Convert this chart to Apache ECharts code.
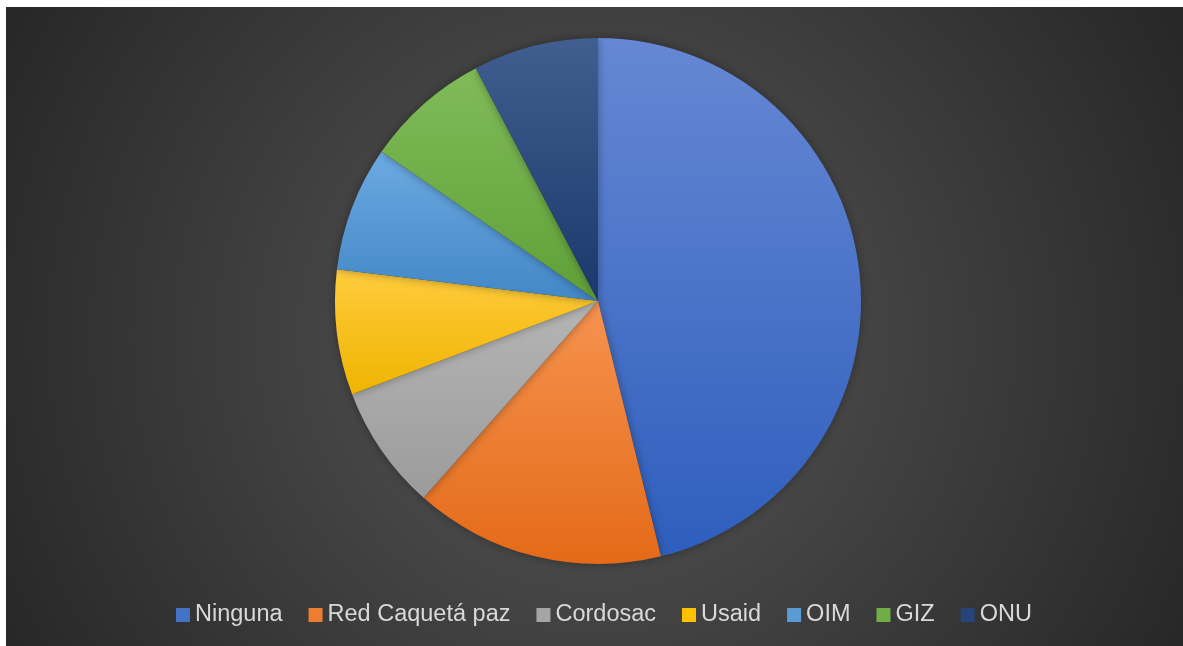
<!DOCTYPE html>
<html><head><meta charset="utf-8">
<script src="https://cdn.jsdelivr.net/npm/echarts@6/dist/echarts.min.js"></script>
<style>
html,body{margin:0;padding:0;background:#fff;width:1183px;height:646px;overflow:hidden}
#c{position:absolute;left:6px;top:7px;width:1177px;height:639px}
</style></head><body>
<div id="c"></div>
<script>
const categories = ['Ninguna','Red Caquetá paz','Cordosac','Usaid','OIM','GIZ','ONU'];
const values = [6,2,1,1,1,1,1];
const topColors = ['#6688d3','#f6934f','#b5b5b5','#ffcc3d','#6caae1','#80bb59','#415e90'];
const bottomColors = ['#2e5ebd','#e46a18','#9b9b9b','#efb400','#4287c7','#60a038','#1b386c'];
const legendColors = ['#4472c4','#ed7d31','#a5a5a5','#ffc000','#5b9bd5','#70ad47','#264478'];

const chart = echarts.init(document.getElementById('c'));
const data = categories.map((n,i)=>({
  name:n, value:values[i],
  itemStyle:{color:new echarts.graphic.LinearGradient(0,0,0,1,[{offset:0,color:topColors[i]},{offset:1,color:bottomColors[i]}])}
}));
chart.setOption({
  backgroundColor: new echarts.graphic.RadialGradient(588,330,680,[{offset:0,color:'#575757'},{offset:1,color:'#262626'}],true),
  animation:false,
  legend:{
    bottom:14, left:165, padding:5,
    itemWidth:14, itemHeight:14, itemGap:26,
    icon:'rect',
    textStyle:{color:'#d9d9d9', fontSize:23.5, fontFamily:"'Liberation Sans', Arial, sans-serif"},
    data: categories.map((n,i)=>({name:n, itemStyle:{color:legendColors[i]}}))
  },
  series:[{
    type:'pie',
    center:[592,294],
    radius:263,
    startAngle:90,
    clockwise:true,
    label:{show:false},
    labelLine:{show:false},
    emphasis:{disabled:true},
    itemStyle:{borderWidth:0, shadowBlur:10, shadowColor:'rgba(0,0,0,0.35)'},
    data:data
  }]
});
</script>
</body></html>
